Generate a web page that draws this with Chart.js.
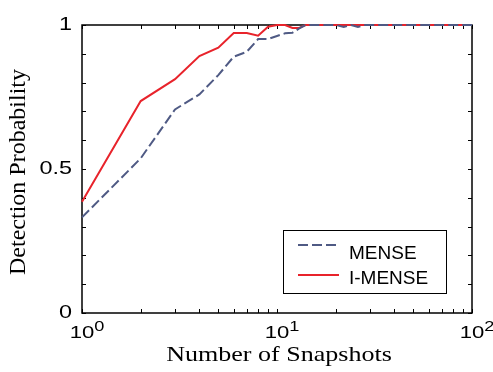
<!DOCTYPE html>
<html>
<head>
<meta charset="utf-8">
<script src="https://cdn.jsdelivr.net/npm/chart.js@4"></script>
<style>
  body { margin: 0; background: #fff; }
  canvas { display: block; }
</style>
</head>
<body>
<canvas id="myChart" width="493" height="372"></canvas>
<script>
// values
const snapshots = [1, 2, 3, 4, 5, 6, 7, 8, 9, 10, 11, 12, 13, 14, 15, 16, 18, 20, 22, 24, 26, 28, 30, 40, 50, 60, 70, 80, 90, 100];
const mense  = [0.332, 0.537, 0.707, 0.759, 0.826, 0.89, 0.907, 0.951, 0.951, 0.962, 0.971, 0.973, 0.988, 1, 1, 1, 1, 1, 0.993, 1, 0.993, 1, 1, 1, 1, 1, 1, 1, 1, 1];
const imense = [0.386, 0.736, 0.812, 0.892, 0.921, 0.972, 0.972, 0.963, 0.994, 1, 1, 0.99, 0.99, 1, 1, 1, 1, 1, 1, 1, 1, 1, 1, 1, 1, 1, 1, 1, 1, 1];
const seriesNames = ['MENSE', 'I-MENSE'];

const xTicks = [1, 2, 3, 4, 5, 6, 7, 8, 9, 10, 20, 30, 40, 50, 60, 70, 80, 90, 100];
const xTickLabels = [[1, '0'], [10, '1'], [100, '2']];
const yTicks = [0, 0.1, 0.2, 0.3, 0.4, 0.5, 0.6, 0.7, 0.8, 0.9, 1];
const yTickLabels = [[0, '0'], [0.5, '0.5'], [1, '1']];

function toPoints(xs, ys) {
    return xs.map((x, i) => ({ x: x, y: ys[i] }));
}

function stretchText(ctx, text, x, y, sx) {
    ctx.save();
    ctx.translate(x, y);
    ctx.scale(sx, 1);
    ctx.fillText(text, 0, 0);
    ctx.restore();
}

// box, inward ticks and tick labels, MATLAB style
const axesBox = {
    id: 'axesBox',
    beforeDatasetsDraw(chart) {
        const ctx = chart.ctx;
        const a = chart.chartArea;
        const xs = chart.scales.x;
        const ys = chart.scales.y;
        const tick = 4;

        ctx.save();
        ctx.strokeStyle = '#000';
        ctx.lineWidth = 1;
        ctx.beginPath();
        xTicks.forEach(v => {
            const px = Math.round(xs.getPixelForValue(v)) + 0.5;
            ctx.moveTo(px, a.bottom); ctx.lineTo(px, a.bottom - tick);
            ctx.moveTo(px, a.top); ctx.lineTo(px, a.top + tick);
        });
        yTicks.forEach(v => {
            const py = Math.round(ys.getPixelForValue(v)) + 0.5;
            ctx.moveTo(a.left, py); ctx.lineTo(a.left + tick, py);
            ctx.moveTo(a.right, py); ctx.lineTo(a.right - tick, py);
        });
        ctx.stroke();

        ctx.lineWidth = 1.5;
        ctx.strokeRect(a.left, a.top, a.right - a.left, a.bottom - a.top);

        // tick labels
        ctx.fillStyle = '#000';
        ctx.font = '18px "Liberation Sans", Arial, sans-serif';
        ctx.textAlign = 'right';
        ctx.textBaseline = 'middle';
        yTickLabels.forEach(([v, t]) => {
            stretchText(ctx, t, a.left - 10, ys.getPixelForValue(v), 1.3);
        });

        ctx.textBaseline = 'alphabetic';
        xTickLabels.forEach(([v, sup]) => {
            const px = xs.getPixelForValue(v);
            ctx.font = '17px "Liberation Sans", Arial, sans-serif';
            ctx.textAlign = 'center';
            stretchText(ctx, '10', px, a.bottom + 25, 1.3);
            const w = ctx.measureText('10').width * 1.3;
            ctx.font = '14px "Liberation Sans", Arial, sans-serif';
            ctx.textAlign = 'left';
            stretchText(ctx, sup, px + w / 2, a.bottom + 18, 1.3);
        });

        // axis titles
        ctx.font = '21px "Liberation Serif", "Times New Roman", serif';
        ctx.textAlign = 'center';
        stretchText(ctx, 'Number of Snapshots', (a.left + a.right) / 2 + 2, 361, 1.24);

        ctx.save();
        ctx.font = '24px "Liberation Serif", "Times New Roman", serif';
        ctx.translate(25, (a.top + a.bottom) / 2 + 3);
        ctx.rotate(-Math.PI / 2);
        ctx.fillText('Detection Probability', 0, 0);
        ctx.restore();
        ctx.restore();
    },
    afterDraw(chart) {
        // legend box inside the plot, lower right
        const ctx = chart.ctx;
        const left = 283.5, top = 230.5, w = 163, h = 63;
        ctx.save();
        ctx.fillStyle = '#fff';
        ctx.fillRect(left, top, w, h);
        ctx.strokeStyle = '#000';
        ctx.lineWidth = 1;
        ctx.strokeRect(left, top, w, h);
        ctx.font = '19px "Liberation Sans", Arial, sans-serif';
        ctx.textAlign = 'left';
        ctx.textBaseline = 'alphabetic';
        const rows = [245, 275];
        const baselines = [259, 284];
        chart.data.datasets.forEach((ds, i) => {
            ctx.strokeStyle = ds.borderColor;
            ctx.lineWidth = ds.borderWidth;
            ctx.setLineDash(ds.borderDash || []);
            ctx.beginPath();
            ctx.moveTo(298, rows[i]);
            ctx.lineTo(339, rows[i]);
            ctx.stroke();
            ctx.setLineDash([]);
            ctx.fillStyle = '#000';
            ctx.fillText(ds.label, 349, baselines[i]);
        });
        ctx.restore();
    }
};

const ctx = document.getElementById('myChart').getContext('2d');
new Chart(ctx, {
    type: 'line',
    data: {
        datasets: [{
            label: seriesNames[0],
            data: toPoints(snapshots, mense),
            borderColor: '#4f5a84',
            borderWidth: 2,
            borderDash: [10, 4],
            pointRadius: 0,
            fill: false,
            clip: false
        }, {
            label: seriesNames[1],
            data: toPoints(snapshots, imense),
            borderColor: '#e8232b',
            borderWidth: 2,
            pointRadius: 0,
            fill: false,
            clip: false
        }]
    },
    options: {
        responsive: false,
        animation: false,
        layout: {
            padding: { left: 82, top: 25, right: 21, bottom: 59 }
        },
        plugins: {
            legend: { display: false },
            tooltip: { enabled: false }
        },
        scales: {
            x: { type: 'logarithmic', min: 1, max: 100, display: false },
            y: { type: 'linear', min: 0, max: 1, display: false }
        }
    },
    plugins: [axesBox]
});
</script>
</body>
</html>
